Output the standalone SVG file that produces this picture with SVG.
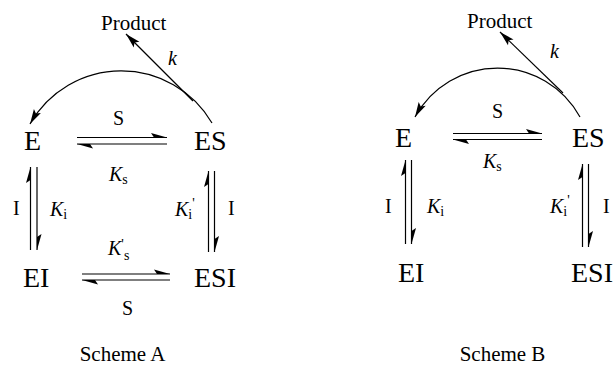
<svg xmlns="http://www.w3.org/2000/svg" width="613" height="365" viewBox="0 0 613 365" font-family="'Liberation Serif', 'Times New Roman', 'DejaVu Serif', serif">
<style>
text{font-family:'Liberation Serif','Times New Roman','DejaVu Serif',serif;fill:#000}
.n{font-size:28px}
.l{font-size:20px}
.p{font-size:21px}
.k{font-size:20px;font-style:italic}
.sub{font-size:14px;font-style:normal}
.c{font-size:21px;text-anchor:middle}
.ln{stroke:#000;stroke-width:1.2;fill:none}
.h{marker-end:url(#half)}
.f{marker-end:url(#full)}
</style>
<defs>
<marker id="half" markerUnits="userSpaceOnUse" viewBox="-20 -8 24 16" refX="0" refY="0" markerWidth="24" markerHeight="16" orient="auto" overflow="visible">
<path d="M0,0 L-16,-4.5 L-13,0 Z" fill="#000"/>
</marker>
<marker id="full" markerUnits="userSpaceOnUse" viewBox="-20 -8 24 16" refX="0" refY="0" markerWidth="24" markerHeight="16" orient="auto" overflow="visible">
<path d="M0,0 L-15,-4 L-12,0 L-15,4 Z" fill="#000"/>
</marker>
</defs>

<g id="connectors">
<path class="ln f" d="M212,123 A105,105 0 0 0 30,124"/>
<line class="ln f" x1="193" y1="101" x2="126" y2="34"/>
<line class="ln h" x1="77" y1="137.5" x2="167" y2="137.5"/>
<line class="ln h" x1="167" y1="144" x2="77" y2="144"/>
<line class="ln h" x1="30.5" y1="250" x2="30.5" y2="167"/>
<line class="ln h" x1="37" y1="167" x2="37" y2="250"/>
<line class="ln h" x1="208.5" y1="252" x2="208.5" y2="171"/>
<line class="ln h" x1="214.5" y1="171" x2="214.5" y2="252"/>
<line class="ln h" x1="82" y1="274" x2="170" y2="274"/>
<line class="ln h" x1="170" y1="280" x2="82" y2="280"/>
<path class="ln f" d="M580,117 A94,94 0 0 0 415,117"/>
<line class="ln f" x1="563" y1="93" x2="500" y2="32"/>
<line class="ln h" x1="453" y1="133.5" x2="542" y2="133.5"/>
<line class="ln h" x1="542" y1="139.5" x2="453" y2="139.5"/>
<line class="ln h" x1="405.5" y1="244" x2="405.5" y2="160"/>
<line class="ln h" x1="411.5" y1="160" x2="411.5" y2="244"/>
<line class="ln h" x1="582.5" y1="247" x2="582.5" y2="164"/>
<line class="ln h" x1="588.5" y1="164" x2="588.5" y2="247"/>
</g>

<g id="labels">
<text class="p" x="101" y="30">Product</text>
<text class="k" x="168" y="65">k</text>
<text class="l" x="113" y="125">S</text>
<text class="k" x="109" y="181">K<tspan class="sub" dy="3">s</tspan></text>
<text class="l" x="13" y="215">I</text>
<text class="k" x="50" y="216">K<tspan class="sub" dy="3">i</tspan></text>
<text class="k" x="175" y="216">K<tspan class="sub" dy="3">i</tspan><tspan class="sub" dx="0" dy="-11">'</tspan></text>
<text class="l" x="228" y="215">I</text>
<text class="k" x="108" y="255">K<tspan class="sub" dy="-6">'</tspan><tspan class="sub" dy="11">s</tspan></text>
<text class="l" x="122" y="315">S</text>
<text class="c" x="122.5" y="361">Scheme A</text>

<text class="p" x="467" y="28">Product</text>
<text class="k" x="550" y="58">k</text>
<text class="l" x="492" y="118">S</text>
<text class="k" x="483" y="168">K<tspan class="sub" dy="3">s</tspan></text>
<text class="l" x="385" y="213">I</text>
<text class="k" x="427" y="213">K<tspan class="sub" dy="3">i</tspan></text>
<text class="k" x="550" y="213">K<tspan class="sub" dy="3">i</tspan><tspan class="sub" dx="0" dy="-11">'</tspan></text>
<text class="l" x="603" y="213">I</text>
<text class="c" x="502.5" y="361">Scheme B</text>
</g>

<g id="node-E-A"><text class="n" x="24" y="150">E</text></g>
<g id="node-ES-A"><text class="n" x="194" y="150">ES</text></g>
<g id="node-EI-A"><text class="n" x="23" y="287">EI</text></g>
<g id="node-ESI-A"><text class="n" x="194" y="287">ESI</text></g>
<g id="node-E-B"><text class="n" x="395" y="147">E</text></g>
<g id="node-ES-B"><text class="n" x="572" y="147">ES</text></g>
<g id="node-EI-B"><text class="n" x="398" y="282">EI</text></g>
<g id="node-ESI-B"><text class="n" x="571" y="282">ESI</text></g>
</svg>
